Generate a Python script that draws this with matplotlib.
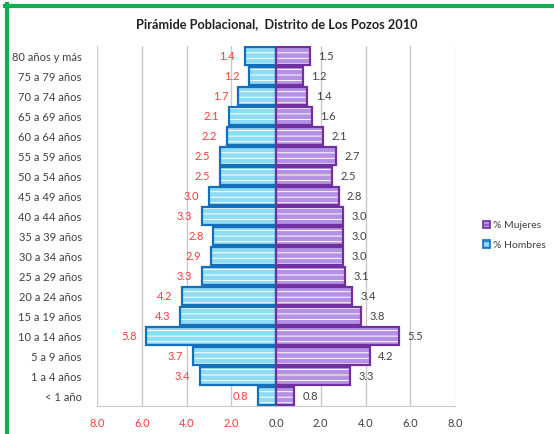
import matplotlib

matplotlib.use("Agg")
import matplotlib.pyplot as plt
from matplotlib.lines import Line2D
from matplotlib.patches import Patch

# 数据：百分比
grupos = ["80 años y más", "75 a 79 años", "70 a 74 años", "65 a 69 años", "60 a 64 años",
          "55 a 59 años", "50 a 54 años", "45 a 49 años", "40 a 44 años", "35 a 39 años",
          "30 a 34 años", "25 a 29 años", "20 a 24 años", "15 a 19 años", "10 a 14 años",
          "5 a 9 años", "1 a 4 años", "< 1 año"]
hombres = [1.4, 1.2, 1.7, 2.1, 2.2, 2.5, 2.5, 3.0, 3.3, 2.8, 2.9, 3.3, 4.2, 4.3, 5.8, 3.7, 3.4, 0.8]
mujeres = [1.5, 1.2, 1.4, 1.6, 2.1, 2.7, 2.5, 2.8, 3.0, 3.0, 3.0, 3.1, 3.4, 3.8, 5.5, 4.2, 3.3, 0.8]
ticks_x = [-8, -6, -4, -2, 0, 2, 4, 6, 8]

_BLUE_FILL = "#8ddcf4"
_BLUE_EDGE = "#1470bd"
_PURP_FILL = "#b591e6"
_PURP_EDGE = "#7030a0"
_RED = "#ff3b3b"
_TXT = "#404040"
_GRID = "#c8c8c8"

plt.rcParams["font.family"] = ["Lato", "DejaVu Sans"]
plt.rcParams["hatch.linewidth"] = 0.7

fig = plt.figure(figsize=(5.54, 4.34), dpi=100)
ax = fig.add_axes([0.1751, 0.0634, 0.8213 - 0.1751, 0.8929 - 0.0634])

y = list(range(len(grupos)))
neg_h = [-v for v in hombres]
h = 0.9

# 填充 + 砖纹（白色），再叠加描边
ax.barh(y, neg_h, height=h, color=_BLUE_FILL, edgecolor="white", hatch="---", lw=0, zorder=2)
ax.barh(y, neg_h, height=h, fill=False, edgecolor=_BLUE_EDGE, lw=1.6, zorder=3)
ax.barh(y, mujeres, height=h, color=_PURP_FILL, edgecolor="white", hatch="---", lw=0, zorder=2)
ax.barh(y, mujeres, height=h, fill=False, edgecolor=_PURP_EDGE, lw=1.6, zorder=3)

for yi, v in zip(y, hombres):
    ax.annotate(f"{v:.1f}", (-v, yi), xytext=(-7, 0), textcoords="offset points",
                ha="right", va="center", fontsize=8, color=_RED)
for yi, v in zip(y, mujeres):
    ax.annotate(f"{v:.1f}", (v, yi), xytext=(6, 0), textcoords="offset points",
                ha="left", va="center", fontsize=8, color=_TXT)

ax.set_xlim(-8, 8)
ax.set_ylim(len(grupos) - 0.5, -0.5)
ax.set_yticks(y)
ax.set_yticklabels(grupos, fontsize=8, color=_TXT)
ax.set_xticks(ticks_x)
ax.set_xticklabels([f"{abs(t):.1f}" for t in ticks_x], fontsize=8)
for lab, t in zip(ax.get_xticklabels(), ticks_x):
    lab.set_color(_RED if t < 0 else _TXT)
ax.tick_params(length=0, pad=8)
ax.tick_params(axis="y", pad=11)

ax.grid(axis="x", color=_GRID, lw=1, zorder=0)
ax.set_axisbelow(True)
for s in ("top", "right", "left"):
    ax.spines[s].set_visible(False)
ax.spines["bottom"].set_color(_GRID)

fig.text(0.5, 0.945, "Pirámide Poblacional,  Distrito de Los Pozos 2010",
         ha="center", va="center", fontsize=9.2, fontweight="bold", color="#222222")

handles = [Patch(facecolor=_PURP_FILL, edgecolor=_PURP_EDGE, hatch="---", lw=1.2),
           Patch(facecolor=_BLUE_FILL, edgecolor=_BLUE_EDGE, hatch="---", lw=1.2)]
fig.legend(handles, ["% Mujeres", "% Hombres"], loc="center left",
           bbox_to_anchor=(0.855, 0.458), frameon=False, fontsize=7.5,
           handlelength=0.7, handleheight=0.7, handletextpad=0.3, labelspacing=1.0,
           labelcolor=_TXT)

# 左侧和顶部的绿色边框
fig.add_artist(Line2D([0.012, 0.012], [0, 0.99], transform=fig.transFigure,
                      color="#0bb150", lw=3))
fig.add_artist(Line2D([0.009, 1.0], [0.986, 0.986], transform=fig.transFigure,
                      color="#0bb150", lw=3))

fig.savefig("out.png", dpi=100)
